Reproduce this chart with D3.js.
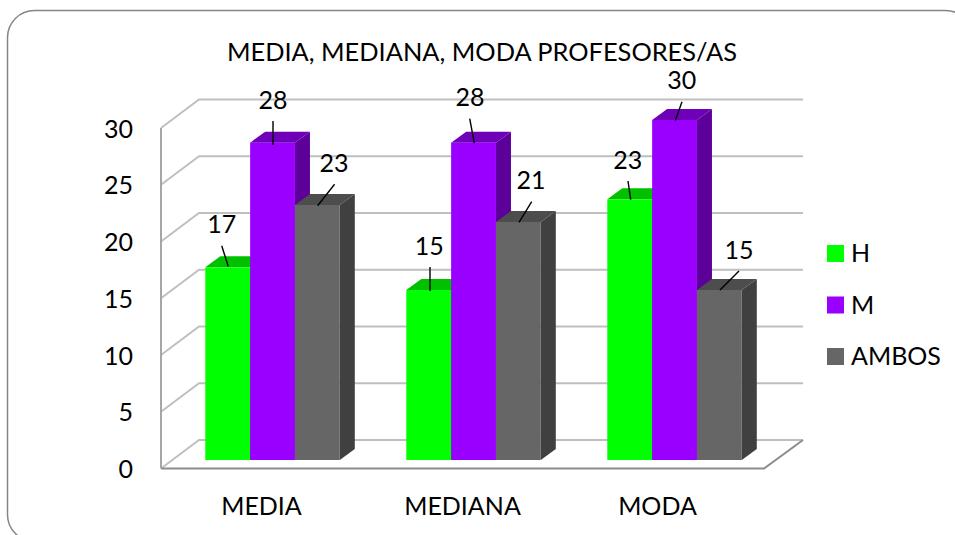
<!DOCTYPE html>
<html>
<head>
<meta charset="utf-8">
<script src="https://cdn.jsdelivr.net/npm/d3@7"></script>
<style>
html, body { margin: 0; padding: 0; background: #fff; overflow: hidden; }
text { font-family: Lato, "Open Sans", sans-serif; fill: #000; }
</style>
</head>
<body>
<svg id="chart" width="955" height="535"></svg>
<script>
var categories = ["MEDIA", "MEDIANA", "MODA"];
var seriesNames = ["H", "M", "AMBOS"];
var hValues = [17, 15, 23];
var mValues = [28, 28, 30];
var ambosValues = [22.5, 21, 15];
var yTicks = [0, 5, 10, 15, 20, 25, 30];
var titleText = "MEDIA, MEDIANA, MODA PROFESORES/AS";

var colors = [
	{ front: "#00ff00", top: "#00c000", side: "#00a000" },
	{ front: "#9900ff", top: "#6e00b8", side: "#5c0099" },
	{ front: "#666666", top: "#4d4d4d", side: "#404040" }
];

var series = [hValues, mValues, ambosValues];
var svg = d3.select("#chart");

// depth of the fake 3d box
var wallDx = 38, wallDy = -28.5;
var barDx = 15, barDy = -11;

var x = d3.scaleBand().domain(categories).range([161, 764]);
var y = d3.scaleLinear().domain([0, 30]).range([468.5, 128]);
// bars stand a bit behind the front edge of the floor
var barBase = d3.scaleLinear().domain([0, 30]).range([460, 120]);
var xInner = d3.scaleBand().domain(seriesNames).range([0, 134.5]);

svg.append("rect")
	.attr("x", 7.5).attr("y", 10.5)
	.attr("width", 965).attr("height", 531)
	.attr("rx", 27).attr("ry", 27)
	.attr("fill", "#fff")
	.attr("stroke", "#868686")
	.attr("stroke-width", 1.5);

svg.append("text")
	.attr("x", 482).attr("y", 61)
	.attr("text-anchor", "middle")
	.style("font-size", "25.4px")
	.text(titleText);

// back wall and side wall lines
yTicks.forEach(function (t) {
	var yy = y(t);
	svg.append("path")
		.attr("d", "M161," + yy + "L" + (161 + wallDx) + "," + (yy + wallDy) + "H803")
		.attr("fill", "none")
		.attr("stroke", "#bfbfbf")
		.attr("stroke-width", 2);
});

// floor
svg.append("path")
	.attr("d", "M161," + y(0) + "H764L803," + (y(0) + wallDy))
	.attr("fill", "none")
	.attr("stroke", "#8c8c8c")
	.attr("stroke-width", 2);
svg.append("line")
	.attr("x1", 161).attr("x2", 161)
	.attr("y1", y(0)).attr("y2", y(30))
	.attr("stroke", "#a6a6a6")
	.attr("stroke-width", 2);

var yAxis = svg.append("g")
	.attr("transform", "translate(141,0)")
	.call(d3.axisLeft(y).tickValues(yTicks).tickSize(0).tickPadding(8));
yAxis.select(".domain").remove();
yAxis.selectAll("text").style("font-size", "25px").attr("dy", "0.36em");

var xAxis = svg.append("g")
	.attr("transform", "translate(0,495)")
	.call(d3.axisBottom(x).tickSize(0).tickPadding(0));
xAxis.select(".domain").remove();
xAxis.selectAll("text")
	.style("font-size", "25px")
	.attr("dy", "0.8em")
	.attr("dx", function (d) { return d === "MODA" ? -6 : 0; });

// bars
categories.forEach(function (cat, c) {
	var left = x(cat) + 44.3;
	series.forEach(function (vals, s) {
		var x0 = left + xInner(seriesNames[s]);
		var w = xInner.bandwidth();
		var top = barBase(vals[c]);
		var bottom = barBase(0);
		var g = svg.append("g");
		g.append("path")
			.attr("d", "M" + (x0 + w) + "," + top + "l" + barDx + "," + barDy +
				"V" + (bottom + barDy) + "l" + (-barDx) + "," + (-barDy) + "Z")
			.attr("fill", colors[s].side);
		g.append("path")
			.attr("d", "M" + x0 + "," + top + "l" + barDx + "," + barDy +
				"h" + w + "l" + (-barDx) + "," + (-barDy) + "Z")
			.attr("fill", colors[s].top);
		g.append("rect")
			.attr("x", x0).attr("y", top)
			.attr("width", w).attr("height", bottom - top)
			.attr("fill", colors[s].front);
	});
});

// data labels sit off the bars with a leader line, offsets per label [cat][series]
var labelPos = [
	[[221.7, 233, 221.7, 245.7, 228.3, 266.5], [273, 109, 273, 121, 273, 145], [334, 172, 334.6, 184.3, 317.6, 205.7]],
	[[429.3, 255, 430, 267, 430, 291], [470, 105.7, 469.7, 118.7, 474.3, 143], [531, 189, 531.7, 201.7, 519, 222.3]],
	[[627.7, 169, 628, 181, 630.7, 199.7], [681.7, 89, 682, 101.7, 675.3, 120.6], [739, 259, 739, 271, 720, 290]]
];
categories.forEach(function (cat, c) {
	series.forEach(function (vals, s) {
		var p = labelPos[c][s];
		svg.append("line")
			.attr("x1", p[2]).attr("y1", p[3])
			.attr("x2", p[4]).attr("y2", p[5])
			.attr("stroke", "#000")
			.attr("stroke-width", 1.4);
		svg.append("text")
			.attr("x", p[0]).attr("y", p[1])
			.attr("text-anchor", "middle")
			.style("font-size", "25px")
			.text(Math.round(vals[c]));
	});
});

// legend
seriesNames.forEach(function (name, i) {
	var ly = 245 + i * 51.5;
	svg.append("rect")
		.attr("x", 827).attr("y", ly)
		.attr("width", 17).attr("height", 17)
		.attr("fill", colors[i].front);
	svg.append("text")
		.attr("x", 851).attr("y", ly + 17)
		.style("font-size", "25px")
		.text(name);
});
</script>
</body>
</html>
